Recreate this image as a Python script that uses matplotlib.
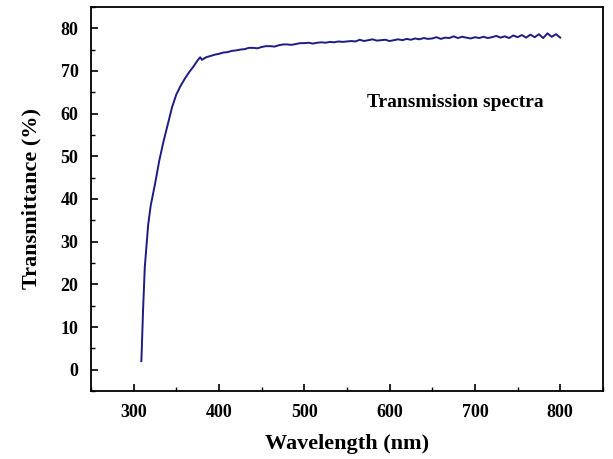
import matplotlib
matplotlib.use("Agg")
import matplotlib.pyplot as plt
from matplotlib.ticker import MultipleLocator

# wavelength (nm) and transmittance (%)
wavelength = [309, 310, 311, 312, 313, 315, 317, 320, 325, 330, 335, 340, 345, 350,
              355, 360, 365, 370, 375, 378, 380, 385, 390, 395, 400, 405, 410, 415,
              420, 425, 430, 435, 440, 445, 450, 455, 460, 465, 470, 475, 480, 485,
              490, 495, 500, 505, 510, 515, 520, 525, 530, 535, 540, 545, 550, 555,
              560, 565, 570, 575, 580, 585, 590, 595, 600, 605, 610, 615, 620, 625,
              630, 635, 640, 645, 650, 655, 660, 665, 670, 675, 680, 685, 690, 695,
              700, 705, 710, 715, 720, 725, 730, 735, 740, 745, 750, 755, 760, 765,
              770, 775, 780, 785, 790, 795, 800]
transmittance = [2.0, 8.0, 14.0, 19.0, 24.0, 29.0, 34.0, 38.5, 43.5, 49.0, 53.5, 57.5, 61.5, 64.5,
                 66.5, 68.2, 69.7, 71.0, 72.5, 73.2, 72.6, 73.2, 73.5, 73.8, 74.0, 74.3, 74.4, 74.7,
                 74.8, 75.0, 75.1, 75.4, 75.4, 75.3, 75.6, 75.8, 75.8, 75.7, 76.0, 76.2, 76.2, 76.1,
                 76.3, 76.5, 76.5, 76.6, 76.4, 76.6, 76.7, 76.6, 76.8, 76.7, 76.9, 76.8, 76.9, 77.0,
                 76.9, 77.3, 77.0, 77.2, 77.4, 77.1, 77.2, 77.3, 77.0, 77.2, 77.4, 77.2, 77.5, 77.3,
                 77.6, 77.4, 77.7, 77.5, 77.6, 77.9, 77.5, 77.8, 77.7, 78.1, 77.7, 78.0, 77.8, 77.6,
                 77.9, 77.7, 78.0, 77.7, 77.9, 78.2, 77.8, 78.1, 77.7, 78.3, 77.9, 78.4, 77.8, 78.5,
                 77.9, 78.6, 77.7, 78.8, 78.0, 78.6, 77.8]

plt.rcParams['font.family'] = ['Liberation Serif', 'DejaVu Serif']
plt.rcParams['font.weight'] = 'bold'

fig = plt.figure(figsize=(6.13, 4.59), dpi=100)
ax = fig.add_axes([0.1485, 0.148, 0.835, 0.837])

ax.plot(wavelength, transmittance, color='#1c1c82', lw=1.4)

ax.set_xlim(250, 850)
ax.set_ylim(-5, 85)
ax.xaxis.set_major_locator(MultipleLocator(100))
ax.xaxis.set_minor_locator(MultipleLocator(50))
ax.yaxis.set_major_locator(MultipleLocator(10))
ax.yaxis.set_minor_locator(MultipleLocator(5))
ax.tick_params(which='major', direction='in', length=5, width=1.2, labelsize=13, pad=9)
ax.tick_params(which='minor', direction='in', length=3, width=1.0)
for s in ax.spines.values():
    s.set_linewidth(1.3)

ax.set_xlabel('Wavelength (nm)', fontsize=16, fontweight='bold', labelpad=10)
ax.set_ylabel('Transmittance (%)', fontsize=16, fontweight='bold', labelpad=14)

ax.text(574, 62.5, 'Transmission spectra', fontsize=14, fontweight='bold', ha='left', va='center')

fig.savefig('out.png', dpi=100)
